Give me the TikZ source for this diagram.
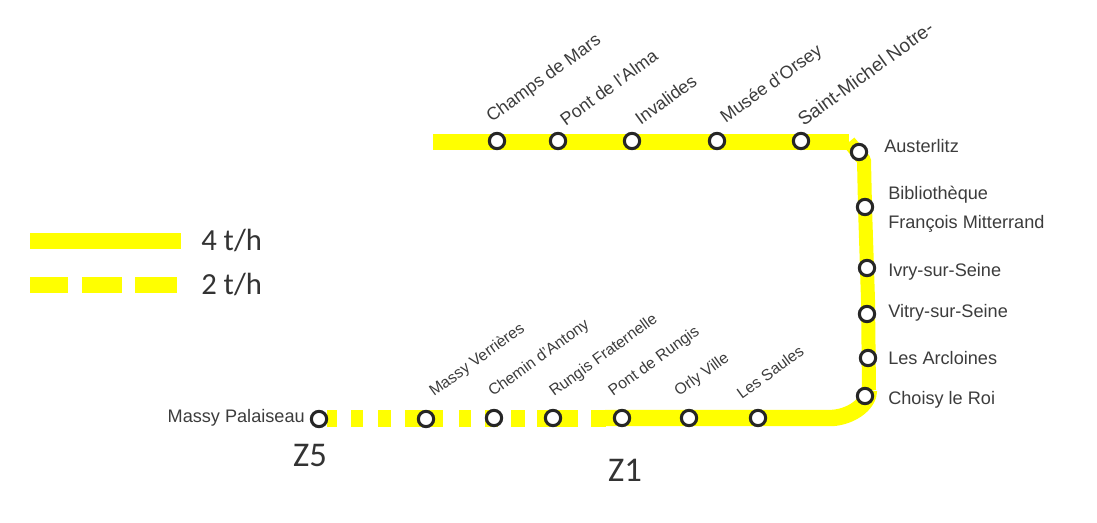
\documentclass[tikz,border=0pt]{standalone}
\usepackage{fontspec}
\setmainfont{Liberation Sans}
\newfontfamily\legfont{Carlito}
\definecolor{lineyellow}{RGB}{255,255,0}
\definecolor{labelgrey}{RGB}{60,60,60}
\tikzset{
  x=0.75pt,y=-0.75pt,
  stop/.style={circle,draw=black!85,fill=white,line width=2.3pt,minimum size=11.5pt,inner sep=0pt},
  track/.style={draw=lineyellow,line width=12.3pt,line cap=butt,line join=round},
  side track/.style={draw=lineyellow,line width=10.5pt,line cap=butt,line join=round},
  legline/.style={draw=lineyellow,line width=12pt,line cap=butt},
  hlabel/.style={inner sep=0pt,anchor=west,text=labelgrey,font=\fontsize{13.6pt}{21.5pt}\selectfont,align=left},
  rlabel/.style={inner sep=0pt,anchor=south west,rotate=36,text=labelgrey,font=\fontsize{13.4pt}{16pt}\selectfont},
  slabel/.style={inner sep=0pt,anchor=south west,rotate=36,text=labelgrey,font=\fontsize{11.8pt}{14pt}\selectfont},
  zone/.style={inner sep=0pt,text=black!80,font=\legfont\fontsize{26pt}{28pt}\selectfont},
  leg/.style={inner sep=0pt,anchor=west,text=black!80,font=\legfont\fontsize{23pt}{26pt}\selectfont},
}
\begin{document}
\begin{tikzpicture}
\useasboundingbox (0,0) rectangle (1097,523);
\coordinate (topstart) at (433,142);
\coordinate (topcorner) at (849,142);
\coordinate (c1) at (864,160);
\coordinate (c2) at (869,390);
\coordinate (c4) at (832,418);
\coordinate (botstart) at (605,418);
% track
\draw[track] (topstart) -- (topcorner);
\draw[side track] (topcorner) -- (c1) -- (865,207) -- (868,300) -- (c2);
\draw[track] (c2) .. controls (869,405) and (850,417) .. (c4) -- (botstart);
\foreach \a/\b in {327/337,351/363,378/391,405/443,459/471,485/498,511/525,537/578,591/606}
  \draw[track] (\a,418.5) -- (\b,418.5);
% legend
\coordinate (la) at (30,241); \coordinate (lb) at (181,241);
\draw[legline] (la) -- (lb);
\foreach \a/\b in {30/68,82/122,135/177}
  \draw[legline] (\a,285) -- (\b,285);
\node[leg] (l4) at (201,241) {4 t/h};
\node[leg] (l2) at (201,285) {2 t/h};
% stops
\foreach \n/\x/\y in {s1/497/141,s2/558/141,s3/632/141,s4/717/141,s5/801/141,s6/859/152,s7/865/207,s8/867/268,s9/867/314,s10/868/358,s11/865/396,b1/319/419,b2/426/419,b3/494/418,b4/553/418,b5/622/418,b6/689/418,b7/758/418}
  \node[stop] (\n) at (\x,\y) {};
% top labels
\node[rlabel] at (494,126) {Champs de Mars};
\node[rlabel] at (566,127) {Pont de l'Alma};
\node[rlabel] at (641,126) {Invalides};
\node[rlabel] at (728,127) {Musée d'Orsey};
\node[rlabel,font=\fontsize{14.2pt}{16pt}\selectfont] at (804,127) {Saint-Michel Notre-};
% side labels
\node[hlabel] at (884,146) {Austerlitz};
\node[hlabel] at (888,209) {Bibliothèque\\François Mitterrand};
\node[hlabel] at (888,272) {Ivry-sur-Seine};
\node[hlabel] at (888,313) {Vitry-sur-Seine};
\node[hlabel] at (888,358) {Les Arcloines};
\node[hlabel] at (888,400) {Choisy le Roi};
\node[hlabel,anchor=east] at (305,418) {Massy Palaiseau};
% bottom labels
\node[slabel] at (436,400) {Massy Verrières};
\node[slabel] at (495,400) {Chemin d'Antony};
\node[slabel] at (556,400) {Rungis Fraternelle};
\node[slabel] at (615,400) {Pont de Rungis};
\node[slabel] at (681,400) {Orly Ville};
\node[slabel] at (742,400) {Les Saules};
\node[zone] (z5) at (310,455) {Z5};
\node[zone] (z1) at (625,470) {Z1};
\end{tikzpicture}
\end{document}
